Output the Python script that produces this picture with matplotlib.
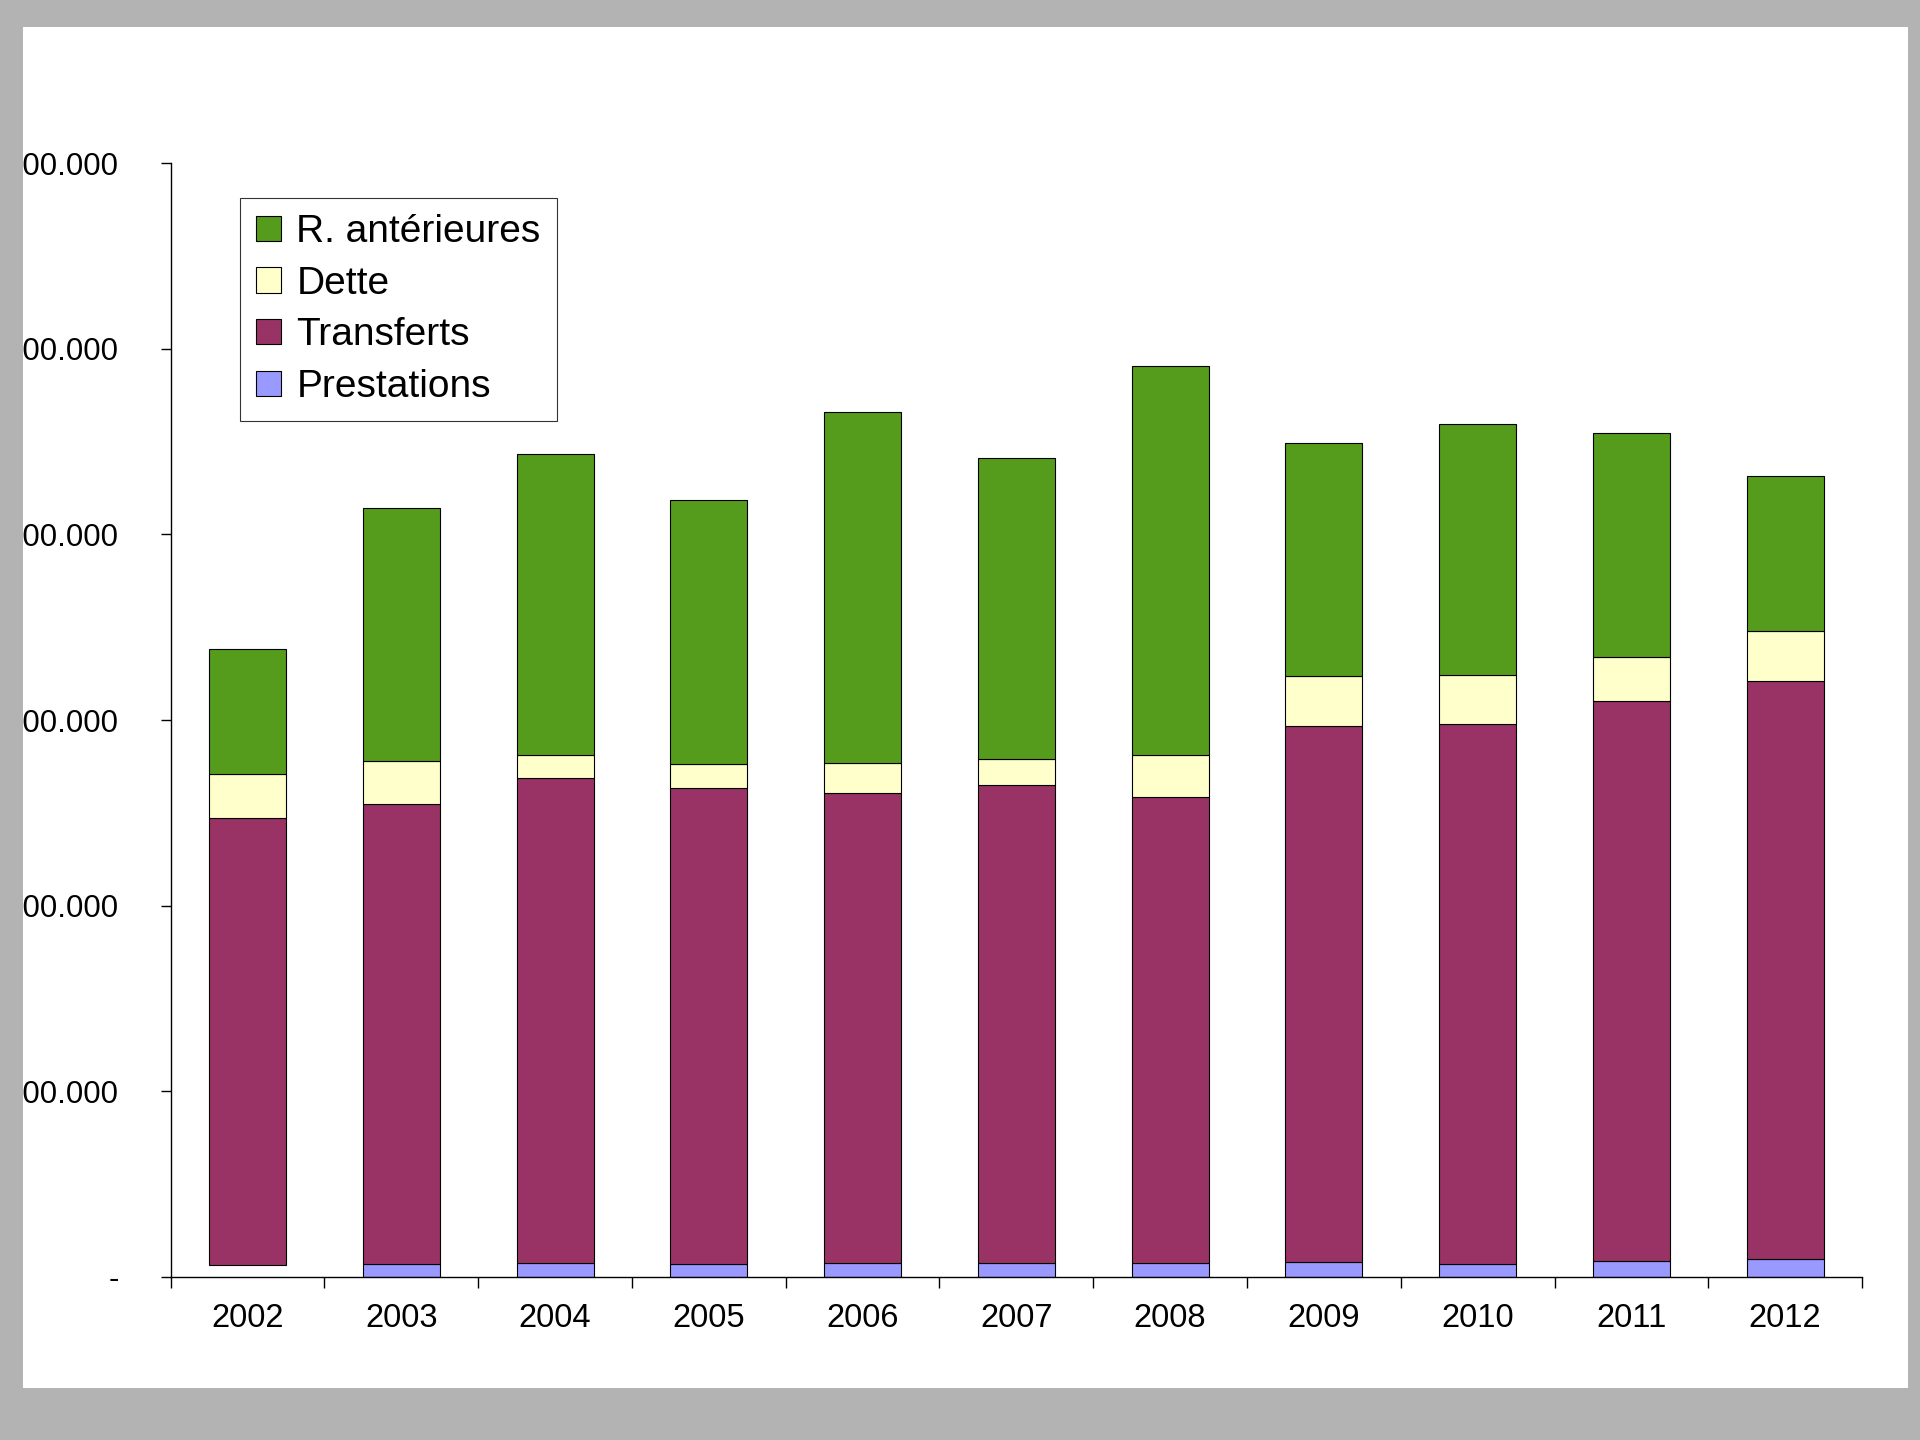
import matplotlib.pyplot as plt
from matplotlib.patches import Rectangle
import numpy as np

plt.rcParams['font.family'] = ['Liberation Sans', 'DejaVu Sans']

# values (stacked, bottom to top)
years = ['2002', '2003', '2004', '2005', '2006', '2007', '2008', '2009', '2010', '2011', '2012']
prestations = [6300, 7200, 7700, 7200, 7700, 7400, 7400, 8200, 7200, 8800, 9500]
transferts = [240900, 247700, 261100, 256000, 252800, 257400, 250900, 288600, 290800, 301300, 311700]
dette = [23900, 22800, 12500, 13300, 16500, 14200, 22800, 26700, 26400, 24000, 26600]
r_anterieures = [67300, 136600, 161800, 142000, 189100, 161900, 209600, 125900, 135000, 120500, 83600]
y_ticks = [0, 100000, 200000, 300000, 400000, 500000, 600000]

colors = {'R. antérieures': '#569c1c', 'Dette': '#ffffcc',
          'Transferts': '#993366', 'Prestations': '#9999ff'}

fig = plt.figure(figsize=(19.2, 14.4), dpi=100)
fig.patch.set_facecolor('#b3b3b3')
# white page
fig.add_artist(Rectangle((0.012, 0.0361), 0.98175, 0.94515, transform=fig.transFigure,
                         facecolor='white', edgecolor='none', zorder=-1))

ax = fig.add_axes([0.0889, 0.1132, 0.8809, 0.7736])
ax.set_facecolor('none')

x = np.arange(len(years))
w = 0.5
ec = dict(edgecolor='black', linewidth=0.8)

# 2002 prestations segment is blank in the source
prest_fc = ['none'] + [colors['Prestations']] * (len(years) - 1)
prest_ec = ['none'] + ['black'] * (len(years) - 1)
ax.bar(x, prestations, w, color=prest_fc, edgecolor=prest_ec, linewidth=0.8)
b1 = np.array(prestations)
ax.bar(x, transferts, w, bottom=b1, color=colors['Transferts'], **ec)
b2 = b1 + np.array(transferts)
ax.bar(x, dette, w, bottom=b2, color=colors['Dette'], **ec)
b3 = b2 + np.array(dette)
ax.bar(x, r_anterieures, w, bottom=b3, color=colors['R. antérieures'], **ec)

ax.set_xlim(-0.5, len(years) - 0.5)
ax.set_ylim(0, 600000)

for s in ['top', 'right']:
    ax.spines[s].set_visible(False)
for s in ['left', 'bottom']:
    ax.spines[s].set_linewidth(1.0)

ax.set_xticks(x)
ax.set_xticklabels(years, fontsize=23.5)
ax.set_xticks(np.arange(-0.5, len(years)), minor=True)
ax.tick_params(axis='x', which='major', length=0, pad=19)
ax.tick_params(axis='x', which='minor', length=8, width=1.0, direction='out')

ax.set_yticks(y_ticks)
ax.set_yticklabels(['-' if v == 0 else f'{v:,}'.replace(',', '.') for v in y_ticks], fontsize=22.5)
ax.tick_params(axis='y', length=7.5, width=1.0, direction='out', pad=30)

handles = [Rectangle((0, 0), 1, 1, facecolor=colors[k], edgecolor='black', linewidth=0.8)
           for k in colors]
leg = fig.legend(handles, list(colors.keys()), loc='upper left',
                 bbox_to_anchor=(0.125, 0.8625), fontsize=28, frameon=True,
                 fancybox=False, edgecolor='black', borderaxespad=0,
                 handlelength=0.63, handleheight=0.63, handletextpad=0.4,
                 labelspacing=0.4, borderpad=0.42)
leg.get_frame().set_linewidth(0.8)

# page margin covers the left part of the tick labels
fig.add_artist(Rectangle((0, 0), 0.012, 1, transform=fig.transFigure,
                         facecolor='#b3b3b3', edgecolor='none', zorder=10))

fig.savefig('out.png', dpi=100, facecolor=fig.get_facecolor())
